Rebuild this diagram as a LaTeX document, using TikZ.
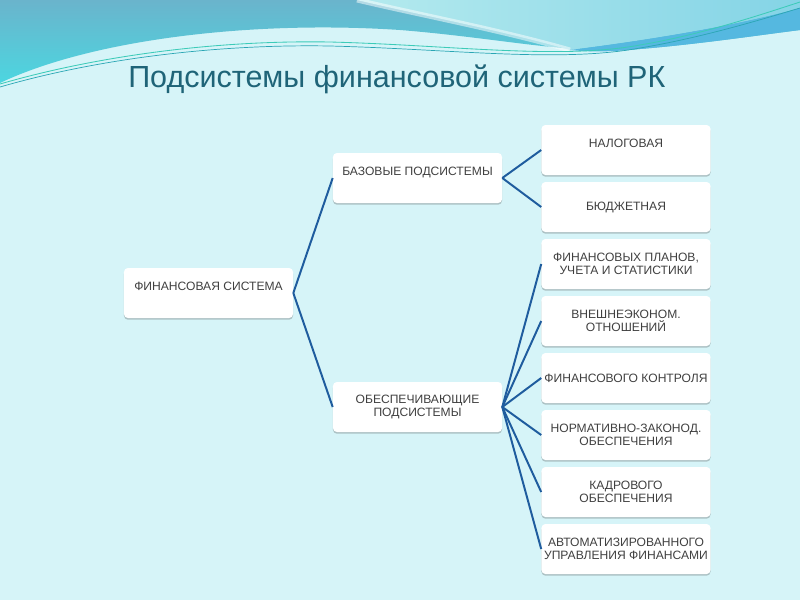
\documentclass[tikz,border=0pt]{standalone}
\usepackage{fontspec}
\setmainfont{Liberation Sans}
\usetikzlibrary{positioning}
\usetikzlibrary{shadows}
\definecolor{PaleCyan}{HTML}{D6F4F8}
\definecolor{TealTop}{HTML}{6AB4CC}
\definecolor{TealLow}{HTML}{4CD6E0}
\definecolor{AquaLight}{HTML}{B4EAEE}
\definecolor{AquaDark}{HTML}{84D4E6}
\definecolor{WaveBlue}{HTML}{55B8E0}
\definecolor{ThinGreen}{HTML}{3CCBB8}
\definecolor{ThinTeal}{HTML}{2AA6B4}
\definecolor{TitleTeal}{HTML}{1F6478}
\definecolor{BoxText}{HTML}{404040}
\definecolor{LinkBlue}{HTML}{1F5C9E}
\tikzset{
  box/.style={shape=rectangle, rounded corners=2.8pt, fill=white,
    minimum width=4.225cm, minimum height=1.25cm, inner xsep=1pt,
    align=center, text=BoxText, font=\fontsize{8.6}{9.3}\selectfont,
    drop shadow={shadow xshift=0pt, shadow yshift=-1.2pt, opacity=0.3, fill=black!70}},
  link/.style={draw=LinkBlue, line width=1.4pt}
}

\begin{document}
\begin{tikzpicture}[x=0.025cm, y=-0.025cm]

  % background
  \fill[PaleCyan] (0,0) rectangle (800,600);
  \useasboundingbox (0,0) rectangle (800,600);
  \shade[top color=TealTop, bottom color=TealLow]
    (0,0) -- (800,0) -- (800,30)
    .. controls (760,35) and (700,44) .. (640,49)
    .. controls (570,55) and (500,38) .. (400,30)
    .. controls (250,20) and (90,40) .. (0,83) -- cycle;
  \shade[left color=AquaLight, right color=AquaDark]
    (357,0) .. controls (420,15) and (500,30) .. (570,50)
    .. controls (650,40) and (740,25) .. (800,8) -- (800,0) -- cycle;
  \fill[WaveBlue]
    (570,50) .. controls (650,40) and (740,25) .. (800,8) -- (800,30)
    .. controls (760,35) and (700,44) .. (640,49)
    .. controls (610,52) and (590,52) .. (570,50);
  \draw[white, opacity=0.5, line width=3.5pt]
    (357,0) .. controls (420,15) and (500,30) .. (570,50);
  \draw[ThinGreen, line width=0.6pt]
    (0,84) .. controls (100,55) and (220,40) .. (330,42)
    .. controls (450,45) and (560,60) .. (640,45)
    .. controls (700,35) and (760,15) .. (800,2);
  \draw[ThinTeal, line width=0.5pt]
    (0,87) .. controls (100,58) and (220,44) .. (330,46)
    .. controls (450,49) and (560,63) .. (640,48)
    .. controls (700,38) and (760,20) .. (800,8);

  % title
  \node[anchor=base west, inner sep=0pt, text=TitleTeal,
    font=\fontsize{21.7}{26}\selectfont] (title) at (128,87)
    {Подсистемы финансовой системы РК};

  % hierarchy
  \node[box] (fs) at (208.5,293) {ФИНАНСОВАЯ СИСТЕМА\\\mbox{}};
  \node[box] (baz) at (417.5,178) {БАЗОВЫЕ ПОДСИСТЕМЫ\\\mbox{}};
  \node[box] (obes) at (417.5,407) {ОБЕСПЕЧИВАЮЩИЕ\\ПОДСИСТЕМЫ};

  \foreach \name/\txt [count=\i from 0] in {
    nal/{НАЛОГОВАЯ\\\mbox{}},
    bud/{БЮДЖЕТНАЯ},
    plan/{ФИНАНСОВЫХ ПЛАНОВ,\\УЧЕТА И СТАТИСТИКИ},
    vnesh/{ВНЕШНЕЭКОНОМ.\\ОТНОШЕНИЙ},
    kontr/{ФИНАНСОВОГО КОНТРОЛЯ},
    norm/{НОРМАТИВНО-ЗАКОНОД.\\ОБЕСПЕЧЕНИЯ},
    kadr/{КАДРОВОГО\\ОБЕСПЕЧЕНИЯ},
    avto/{АВТОМАТИЗИРОВАННОГО\\УПРАВЛЕНИЯ ФИНАНСАМИ}}
  {
    \node[box] (\name) at (626,150+57*\i) {\txt};
  }

  % connectors
  \draw[link] (fs.east) -- (baz.west);
  \draw[link] (fs.east) -- (obes.west);
  \foreach \name in {nal,bud}
    \draw[link] (baz.east) -- (\name.west);
  \foreach \name in {plan,vnesh,kontr,norm,kadr,avto}
    \draw[link] (obes.east) -- (\name.west);

\end{tikzpicture}
\end{document}
